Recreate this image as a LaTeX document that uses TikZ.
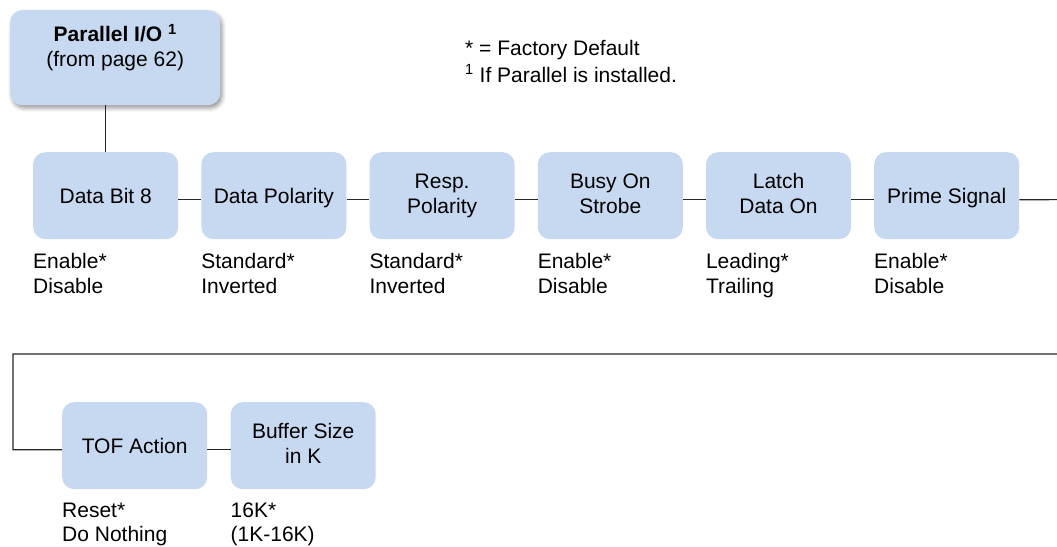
\documentclass[tikz,border=0pt]{standalone}
\usepackage{fontspec}
\setmainfont{Liberation Sans}
\usetikzlibrary{shadows.blur,calc}
\definecolor{boxblue}{RGB}{198,217,241}
\newcommand{\bxstrut}{\rule[-4.5pt]{0pt}{25pt}}
\begin{document}
\begin{tikzpicture}[x=1pt,y=-1pt, font=\fontsize{21}{25}\selectfont,
  box/.style={fill=boxblue, rounded corners=12pt, minimum width=145pt, minimum height=87pt,
    align=center, inner sep=0pt, anchor=north west,
    execute at begin node=\bxstrut, execute at end node=\bxstrut},
  lab/.style={anchor=base west, align=left, inner sep=0pt},
  conn/.style={draw=black!85, line width=1.2pt}]
\useasboundingbox (0,0) rectangle (1057,546);

% top box
\node[box, minimum width=210pt, minimum height=95pt,
  blur shadow={shadow xshift=2pt, shadow yshift=-3pt, shadow blur radius=4pt}]
  (top) at (10,10) {\textbf{Parallel I/O \textsuperscript{1}}\\(from page 62)\rule[-24.5pt]{0pt}{0pt}};

% legend
\node[lab, font=\fontsize{21}{27}\selectfont] (legend) at (465,82)
  {* = Factory Default\\\textsuperscript{1} If Parallel is installed.};

% row 1
\node[box] (databit) at (33,152) {Data Bit 8};
\node[box] (datapol) at (201.2,152) {Data Polarity};
\node[box] (resppol) at (369.4,152) {Resp.\\Polarity};
\node[box] (busy)    at (537.6,152) {Busy On\\Strobe};
\node[box] (latch)   at (705.8,152) {Latch\\Data On};
\node[box] (prime)   at (874,152) {Prime Signal};

\node[lab] (l1) at (databit.west |- 0,293) {Enable*\\Disable};
\node[lab] (l2) at (datapol.west |- 0,293) {Standard*\\Inverted};
\node[lab] (l3) at (resppol.west |- 0,293) {Standard*\\Inverted};
\node[lab] (l4) at (busy.west |- 0,293) {Enable*\\Disable};
\node[lab] (l5) at (latch.west |- 0,293) {Leading*\\Trailing};
\node[lab] (l6) at (prime.west |- 0,293) {Enable*\\Disable};

% row 2
\node[box] (tof) at (62,402) {TOF Action};
\node[box] (buf) at (230.5,402) {Buffer Size\\in K};
\node[lab, font=\fontsize{21}{24}\selectfont] (l7) at (tof.west |- 0,541) {Reset*\\Do Nothing};
\node[lab, font=\fontsize{21}{24}\selectfont] (l8) at (buf.west |- 0,541) {16K*\\(1K-16K)};

% connectors
\draw[conn] (top.south -| databit.north) -- (databit.north);
\draw[conn] ([yshift=-4pt]databit.east) -- ([yshift=-4pt]datapol.west);
\draw[conn] ([yshift=-4pt]datapol.east) -- ([yshift=-4pt]resppol.west);
\draw[conn] ([yshift=-4pt]resppol.east) -- ([yshift=-4pt]busy.west);
\draw[conn] ([yshift=-4pt]busy.east) -- ([yshift=-4pt]latch.west);
\draw[conn] ([yshift=-4pt]latch.east) -- ([yshift=-4pt]prime.west);
\coordinate (r1) at (1075,199.6);
\coordinate (r2) at (1075,354);
\coordinate (lc) at (13,354);
\draw[conn] ([yshift=-4pt]prime.east) -- (r1) -- (r2) -- (lc) |- ([yshift=-4pt]tof.west);
\draw[conn] ([yshift=-4pt]tof.east) -- ([yshift=-4pt]buf.west);
\end{tikzpicture}
\end{document}
